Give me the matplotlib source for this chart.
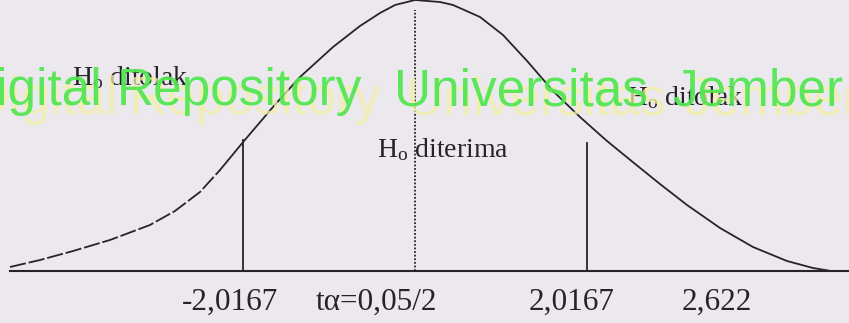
import numpy as np
import matplotlib
matplotlib.use("Agg")
from matplotlib import pyplot as plt

curve_t = [-4.748, -4.396, -4.009, -3.576, -3.107, -2.814, -2.521, -2.286, -2.005,
           -1.665, -1.348, -0.961, -0.645, -0.410, -0.234, 0.0, 0.293, 0.446,
           0.762, 1.032, 1.325, 1.618, 1.934, 2.251, 2.567, 2.872, 3.189,
           3.576, 3.962, 4.361, 4.666, 4.877]
curve_h = [4, 11, 20, 31, 46, 60, 79, 101, 130,
           164, 194, 224, 245, 258, 266, 271, 269, 266,
           254, 236, 209, 180, 154, 130, 108, 87, 66,
           43, 24, 10, 3, 0]
n_dashed = 8   # the left tail is broken into dashes

t_crit = 2.0167
crit_tops = [131, 128]   # where the two critical lines stop
tick_labels = ["-2,0167", "t\u03b1=0,05/2", "2,0167", "2,622"]
tick_px = [230, 376, 572, 717]
region_labels = [r"H$_{\mathrm{o}}$ ditolak", r"H$_{\mathrm{o}}$ diterima", r"H$_{\mathrm{o}}$ ditolak"]
region_px = [(72, 85), (377, 157), (627, 105)]
stamp_words = ["Digital", "Repository", "Universitas", "Jember"]
stamp_px = [-40, 117, 394, 672]

W, H = 849, 323
bg = "#ebe9ee"
ink = "#262426"

plt.rcParams["mathtext.fontset"] = "custom"
plt.rcParams["mathtext.rm"] = "Liberation Serif"
plt.rcParams["mathtext.it"] = "Liberation Serif:italic"

fig = plt.figure(figsize=(W / 100, H / 100), dpi=100, facecolor=bg)
ax = fig.add_axes([0, 0, 1, 1])
ax.set_facecolor(bg)
ax.axis("off")

px = 85.3   # pixels per t unit
x0 = 415    # pixel of t = 0
base = 271  # pixel row of the baseline
ax.set_xlim(-x0 / px, (W - x0) / px)
ax.set_ylim(-(H - base), base)

ct = np.array(curve_t)
ch = np.array(curve_h)
ax.plot(ct[:n_dashed], ch[:n_dashed], color=ink, lw=1.3, dashes=(9, 1.6))
ax.plot(ct[n_dashed - 1:], ch[n_dashed - 1:], color=ink, lw=1.3, solid_joinstyle="round")

# baseline
ax.plot([-4.75, (W - x0) / px], [0, 0], color=ink, lw=1.5)

# critical values and centre
ax.plot([-t_crit, -t_crit], [0, crit_tops[0]], color=ink, lw=1.3)
ax.plot([t_crit, t_crit], [0, crit_tops[1]], color=ink, lw=1.3)
ax.plot([0, 0], [0, 261], color=ink, lw=1.3, linestyle=(0, (1, 1)))

serif = "Liberation Serif"
for lab, x in zip(tick_labels, tick_px):
    fig.text(x / W, 1 - 310 / H, lab, ha="center", va="baseline",
             fontsize=22.5, family=serif, color=ink)
for lab, (x, y) in zip(region_labels, region_px):
    fig.text(x / W, 1 - y / H, lab, ha="left", va="baseline",
             fontsize=20, family=serif, color=ink)

# repository stamp: pale yellow shadow under the green lettering
for word, x in zip(stamp_words, stamp_px):
    fig.text((x + 12) / W, 1 - 114 / H, word, ha="left", va="baseline",
             fontsize=38, family="Liberation Sans", color="#f2efa8", alpha=0.75, zorder=5)
    fig.text(x / W, 1 - 105 / H, word, ha="left", va="baseline",
             fontsize=37, family="Liberation Sans", color="#4fe64f", alpha=0.92, zorder=6)

fig.savefig("out.png", dpi=100, facecolor=bg)
